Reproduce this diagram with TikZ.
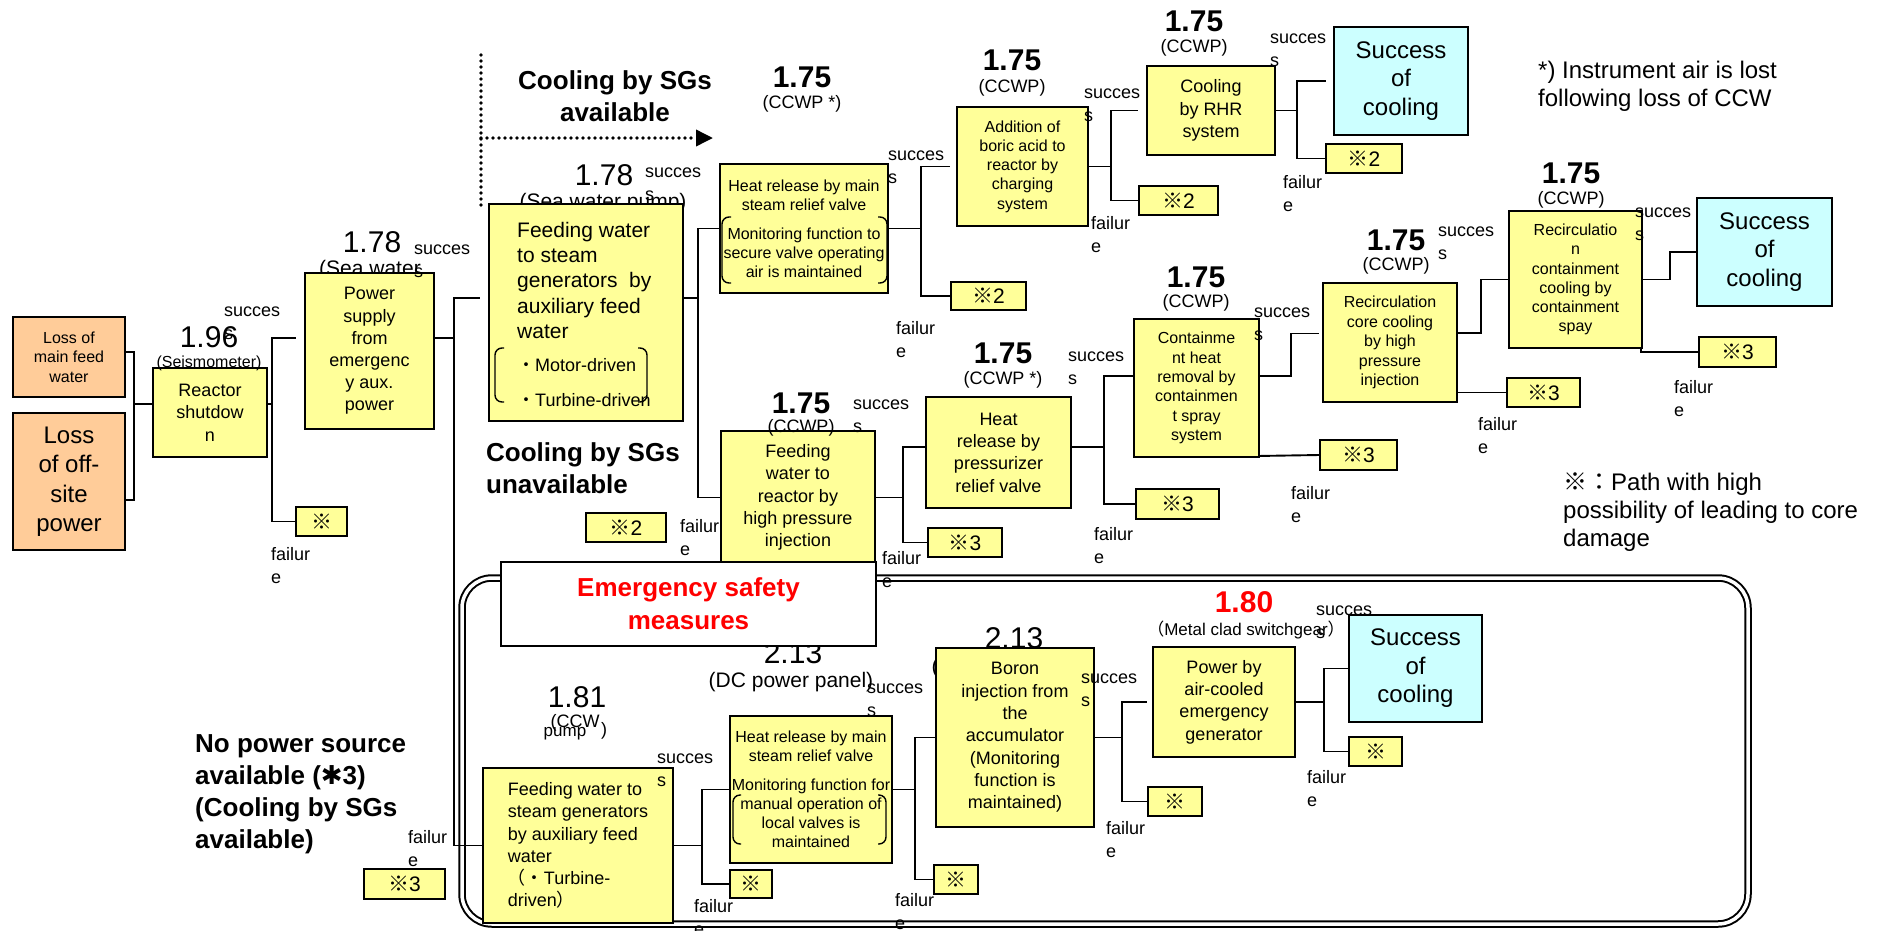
\documentclass[tikz,border=0pt]{standalone}
\usepackage{fontspec}
\setmainfont{Liberation Sans}
\newfontfamily\cjk{Noto Sans CJK JP}
\newfontfamily\djv{DejaVu Sans}
\usetikzlibrary{arrows.meta}
\pgfdeclarelayer{bg}
\pgfsetlayers{bg,main}
\definecolor{byel}{RGB}{255,255,153}
\definecolor{bora}{RGB}{255,204,153}
\definecolor{bcya}{RGB}{204,255,255}
\newcommand\setfs[2]{\fontsize{#1}{#2}\selectfont}
\newcommand\mkbox[7]{\node[#1, minimum width={(#5-#3)*1pt}, minimum height={(#6-#4)*1pt}] (#2) at ({(#3+#5)/2},{(#4+#6)/2}) {#7};}
\newcommand\TxtL[5]{\node[#1,anchor=base west,inner sep=0pt] (#2) at (#3,#4) {\begin{tabular}[t]{@{}l@{}}#5\end{tabular}};}
\newcommand\TxtC[5]{\node[#1,anchor=base,inner sep=0pt] (#2) at (#3,#4) {\begin{tabular}[t]{@{}c@{}}#5\end{tabular}};}
\newcommand\SuccL[3]{\TxtL{sml}{#1}{#2}{#3+5}{succes\\s}}
\newcommand\FailL[3]{\TxtL{sml}{#1}{#2}{#3+6.5}{failur\\e}}
\newcommand\xm{{\cjk ※}}
\begin{document}
\begin{tikzpicture}[x=1pt,y=-1pt,
  box/.style={draw, line width=1.9pt, fill=byel, inner sep=0pt, align=center},
  obox/.style={box, fill=bora},
  cbox/.style={box, fill=bcya, font=\setfs{24}{28.5}},
  xbox/.style={box, font=\setfs{21}{25}},
  conn/.style={line width=1.9pt},
  brk/.style={line width=1.4pt, rounded corners=7pt},
  sml/.style={font=\setfs{18}{23}},
  bnum/.style={font=\bfseries\setfs{30}{36}, inner sep=0pt},
  rnum/.style={font=\setfs{30}{36}, inner sep=0pt},
  paren/.style={font=\setfs{18}{22}, inner sep=0pt},
  bigtxt/.style={font=\bfseries\setfs{26}{32}},
  notetxt/.style={font=\setfs{24}{28}},
  dotarrow/.style={line width=3.6pt, line cap=round, dash pattern=on 0pt off 6pt}]
\useasboundingbox (0,0) rectangle (1877,930);

% ---------- boxes ----------
\mkbox{obox,font=\setfs{16}{19.5}}{lmfw}{13}{317}{125}{397}{Loss of\\main feed\\water}
\mkbox{obox,font=\setfs{24}{29.5}}{losp}{13}{413}{125}{550}{Loss\\of off-\\site\\power}
\mkbox{box,font=\setfs{18}{22.5}}{reactor}{153}{368}{267}{457}{Reactor\\shutdow\\n}
\mkbox{box,font=\setfs{18}{22.2}}{power}{305}{273}{434}{429}{Power\\supply\\from\\emergenc\\y aux.\\power}
\mkbox{box}{feedsg}{489}{204}{683}{421}{}
\mkbox{box,font=\setfs{16}{19}}{heatmain}{720}{164}{888}{293}{Heat release by main\\steam relief valve\\[10pt]Monitoring function to\\secure valve operating\\air is maintained}
\mkbox{box,font=\setfs{16}{19.3}}{addition}{957}{107}{1088}{226}{Addition of\\boric acid to\\reactor by\\charging\\system}
\mkbox{box,font=\setfs{18}{22.5}}{rhr}{1147}{66}{1275}{155}{Cooling\\by RHR\\system}
\mkbox{cbox}{succ1}{1334}{27}{1468}{135}{Success\\of\\cooling}
\mkbox{box,font=\setfs{18}{22.3}}{feedreac}{721}{431}{875}{564}{Feeding\\water to\\reactor by\\high pressure\\injection}
\mkbox{box,font=\setfs{18}{22.3}}{heatpress}{926}{397}{1071}{508}{Heat\\release by\\pressurizer\\relief valve}
\mkbox{box,font=\setfs{16}{19.4}}{contain}{1134}{319}{1259}{457}{Containme\\nt heat\\removal by\\containmen\\t spray\\system}
\mkbox{box,font=\setfs{16}{19.5}}{reccore}{1323}{283}{1457}{402}{Recirculation\\core cooling\\by high\\pressure\\injection}
\mkbox{box,font=\setfs{16}{19.2}}{recspray}{1509}{211}{1642}{348}{Recirculatio\\n\\containment\\cooling by\\containment\\spay}
\mkbox{cbox}{succ2}{1697}{198}{1832}{306}{Success\\of\\cooling}
\mkbox{box,fill=white,text=red,font=\bfseries\setfs{26}{33}}{emerg}{501}{562}{876}{646}{Emergency safety\\measures}
\mkbox{box,align=left,font=\setfs{18}{22.2}}{lowfeed}{483}{768}{673}{923}{Feeding water to\\steam generators\\by auxiliary feed\\water\\{\cjk （・}Turbine-\\driven{\cjk ）}}
\mkbox{box,font=\setfs{16}{19}}{lowheat}{730}{716}{892}{863}{Heat release by main\\steam relief valve\\[10pt]Monitoring function for\\manual operation of\\local valves is\\maintained}
\mkbox{box,font=\setfs{18}{22.3}}{boron}{936}{648}{1094}{827}{Boron\\injection from\\the\\accumulator\\(Monitoring\\function is\\maintained)}
\mkbox{box,font=\setfs{18}{22.3}}{powair}{1153}{647}{1295}{757}{Power by\\air-cooled\\emergency\\generator}
\mkbox{cbox}{succ3}{1349}{615}{1482}{722}{Success\\of\\cooling}
% reference-mark boxes
\mkbox{xbox}{x1}{296}{507}{347}{536}{\xm}
\mkbox{xbox}{x2a}{951}{282}{1026}{310}{\xm2}
\mkbox{xbox}{x2b}{1139}{186}{1218}{215}{\xm2}
\mkbox{xbox}{x2c}{1326}{144}{1402}{173}{\xm2}
\mkbox{xbox}{x2d}{586}{513}{666}{542}{\xm2}
\mkbox{xbox}{x3a}{928}{528}{1002}{557}{\xm3}
\mkbox{xbox}{x3b}{1136}{489}{1219}{519}{\xm3}
\mkbox{xbox}{x3c}{1320}{440}{1397}{470}{\xm3}
\mkbox{xbox}{x3d}{1507}{378}{1580}{407}{\xm3}
\mkbox{xbox}{x3e}{1699}{337}{1776}{367}{\xm3}
\mkbox{xbox}{x3f}{364}{869}{445}{899}{\xm3}
\mkbox{xbox}{x4}{730}{870}{772}{898}{\xm}
\mkbox{xbox}{x5}{934}{865}{978}{894}{\xm}
\mkbox{xbox}{x6}{1148}{787}{1202}{816}{\xm}
\mkbox{xbox}{x7}{1349}{737}{1402}{766}{\xm}

% ---------- background layer ----------
\begin{pgfonlayer}{bg}
\fill[white] (0,0) rectangle (1877,930);
\draw[line width=2pt, double=white, double distance=3.5pt, rounded corners=30pt] (462,578) rectangle (1748,924);
% labels partly hidden behind boxes
\TxtC{font=\setfs{21}{25}}{sw1}{370}{275.6}{(Sea water\\pump)}
\node[font=\setfs{21}{25},anchor=base,inner sep=0pt] (sw2) at (603,208.6) {(Sea water pump)};
\node[rnum] (n213a) at (793,653) {2.13};
\node[rnum] (n213b) at (1014,638) {2.13};
\node[font=\setfs{21}{25},inner sep=0pt] (dcb) at (1014,668) {(DC power panel)};
% dotted marker
\coordinate (dv1) at (481,55); \coordinate (dv2) at (481,209);
\coordinate (dh1) at (481,138); \coordinate (dh2) at (713,138);
\draw[dotarrow] (dv1) -- (dv2);
\draw[dotarrow, -{Triangle[length=17pt,width=16pt]}] (dh1) -- (dh2);
% connectors
\coordinate (j0) at (134,404);
\draw[conn] ([yshift=5pt]lmfw.east) -| (j0);
\draw[conn] ([yshift=-18.5pt]losp.east) -| (j0);
\draw[conn] (j0) -- (j0 -| reactor.west);
\draw[conn] ([yshift=8.5pt]reactor.east) -- ++(4,0) coordinate (j1) |- ([xshift=-8pt,yshift=13pt]power.west);
\draw[conn] (j1) |- (x1.west);
\draw[conn] ([yshift=13pt]power.east) -- ++(19,0) coordinate (j2) |- ([xshift=-8pt,yshift=14.5pt]feedsg.west);
\draw[conn] (j2) |- (lowfeed.west);
\draw[conn] ([yshift=14.5pt]feedsg.east) -- ++(14,0) coordinate (j3) |- (heatmain.west);
\draw[conn] (j3) |- (feedreac.west);
\draw[conn] (heatmain.east) -- ++(32,0) coordinate (j4) |- ([xshift=-6pt]addition.west);
\draw[conn] (j4) |- (x2a.west);
\draw[conn] (addition.east) -- ++(22,0) coordinate (j5) |- ([xshift=-8pt]rhr.west);
\draw[conn] (j5) |- (x2b.west);
\draw[conn] (rhr.east) -- ++(21,0) coordinate (j6) |- ([xshift=-7pt]succ1.west);
\draw[conn] (j6) |- (x2c.west);
\draw[conn] (feedreac.east) -- ++(27,0) coordinate (j7) |- ([yshift=5.5pt]heatpress.west);
\draw[conn] (j7) |- (x3a.west);
\draw[conn] ([yshift=5.5pt]heatpress.east) -- ++(32,0) coordinate (j8) |- ([yshift=12pt]contain.west);
\draw[conn] (j8) |- (x3b.west);
\draw[conn] ([yshift=12pt]contain.east) -- ++(31,0) coordinate (j9) |- ([yshift=9pt,xshift=-3pt]reccore.west);
\draw[conn] ([yshift=2pt]contain.south east) -- (x3c.west);
\draw[conn] ([yshift=9.5pt]reccore.east) -- ++(23,0) coordinate (j10) |- (recspray.west);
\draw[conn] (x3d.west -| reccore.east) -- (x3d.west);
\draw[conn] (recspray.east) -- ++(27,0) coordinate (j11) |- (succ2.west);
\draw[conn] ([xshift=-2pt]recspray.south east) |- (x3e.west);
\draw[conn] (lowfeed.east) -- ++(28,0) coordinate (j12) |- (lowheat.west);
\draw[conn] (j12) |- (x4.west);
\draw[conn] (lowheat.east) -- ++(22,0) coordinate (j13) |- (boron.west);
\draw[conn] (j13) |- (x5.west);
\draw[conn] (boron.east) -- ++(27,0) coordinate (j14) |- ([xshift=-5pt]powair.west);
\draw[conn] (j14) |- (x6.west);
\draw[conn] (powair.east) -- ++(28,0) coordinate (j15) |- (succ3.west);
\draw[conn] (j15) |- (x7.west);
\end{pgfonlayer}

% ---------- feeding SG box contents ----------
\TxtL{font=\setfs{21}{25.2}}{feedsgtxt}{517}{237.5}{Feeding water\\to steam\\generators\ \ by\\auxiliary feed\\water}
\node[font=\setfs{18}{22},anchor=base west,inner sep=0pt] (motor) at (517,371.5) {{\cjk ・}Motor-driven};
\node[font=\setfs{18}{22},anchor=base west,inner sep=0pt] (turb) at (517,406.5) {{\cjk ・}Turbine-driven};
\draw[brk] (504,348) -- (495,348) -- (495,402) -- (504,402);
\draw[brk] (638,348) -- (647,348) -- (647,402) -- (638,402);
% brackets in heat release boxes
\draw[brk] (731,217) -- (722,217) -- (722,283) -- (731,283);
\draw[brk] (878,217) -- (887,217) -- (887,283) -- (878,283);
\draw[brk] (741,795) -- (733,795) -- (733,844) -- (741,844);
\draw[brk] (878,795) -- (886,795) -- (886,844) -- (878,844);

% ---------- numeric labels ----------
\node[rnum] (n196) at (209,337) {1.96};
\node[font=\setfs{16}{19},inner sep=0pt] (seis) at (209,363) {(Seismometer)};
\node[rnum] (n178a) at (372,242) {1.78};
\node[rnum] (n178b) at (604,175) {1.78};
\node[bnum] (n175a) at (802,77) {1.75};   \node[paren] (c175a) at (802,104) {(CCWP *)};
\node[bnum] (n175b) at (1012,60) {1.75};  \node[paren] (c175b) at (1012,88) {(CCWP)};
\node[bnum] (n175c) at (1194,21) {1.75};  \node[paren] (c175c) at (1194,48) {(CCWP)};
\node[bnum] (n175d) at (801,403) {1.75};  \node[paren] (c175d) at (801,428) {(CCWP)};
\node[bnum] (n175e) at (1003,353) {1.75}; \node[paren] (c175e) at (1003,380) {(CCWP *)};
\node[bnum] (n175f) at (1196,277) {1.75}; \node[paren] (c175f) at (1196,303) {(CCWP)};
\node[bnum] (n175g) at (1396,240) {1.75}; \node[paren] (c175g) at (1396,266) {(CCWP)};
\node[bnum] (n175h) at (1571,173) {1.75}; \node[paren] (c175h) at (1571,200) {(CCWP)};
\node[rnum] (n181) at (577,697) {1.81};
\node[paren] (ccw1) at (575,723) {(CCW};
\node[font=\setfs{17}{20},inner sep=0pt] (ccw2) at (565,734) {pump};
\node[paren] (ccw3) at (604,731) {)};
\node[font=\setfs{21}{25},inner sep=0pt] (dca) at (791,682) {(DC power panel)};
\node[bnum,text=red] (n180) at (1244,602) {1.80};
\node[font=\setfs{17}{20},inner sep=0pt] (mcs) at (1246,630) {{\cjk （}Metal clad switchgear{\cjk ）}};

% ---------- success / failure labels ----------
\SuccL{s1}{224}{311}
\SuccL{s2}{414}{249}
\SuccL{s3}{645}{172}
\SuccL{s4}{888}{155}
\SuccL{s5}{1084}{93}
\SuccL{s6}{1270}{38}
\SuccL{s7}{853}{404}
\SuccL{s8}{1068}{356}
\SuccL{s9}{1254}{312}
\SuccL{s10}{1438}{231}
\SuccL{s11}{1635}{212}
\SuccL{s12}{657}{758}
\SuccL{s13}{867}{688}
\SuccL{s14}{1081}{678}
\SuccL{s15}{1316}{610}
\FailL{f1}{271}{554}
\FailL{f2}{408}{837}
\FailL{f3}{680}{526}
\FailL{f4}{896}{328}
\FailL{f5}{1091}{223}
\FailL{f6}{1283}{182}
\FailL{f7}{882}{558}
\FailL{f8}{1094}{534}
\FailL{f9}{1291}{493}
\FailL{f10}{1478}{424}
\FailL{f11}{1674}{387}
\FailL{f12}{694}{906}
\FailL{f13}{895}{900}
\FailL{f14}{1106}{828}
\FailL{f15}{1307}{777}

% ---------- free texts ----------
\TxtC{bigtxt}{csa}{615}{89.4}{Cooling by SGs\\available}
\TxtL{bigtxt}{csu}{486}{461.4}{Cooling by SGs\\unavailable}
\TxtL{bigtxt}{nps}{195}{752.4}{No power source\\available ({\djv\mdseries ✱}3)\\(Cooling by SGs\\available)}
\TxtL{notetxt}{inst}{1538}{78.6}{*) Instrument air is lost\\following loss of CCW}
\TxtL{notetxt}{lgd}{1563}{490.6}{\xm{\cjk ：}Path with high\\possibility of leading to core\\damage}
\end{tikzpicture}
\end{document}
